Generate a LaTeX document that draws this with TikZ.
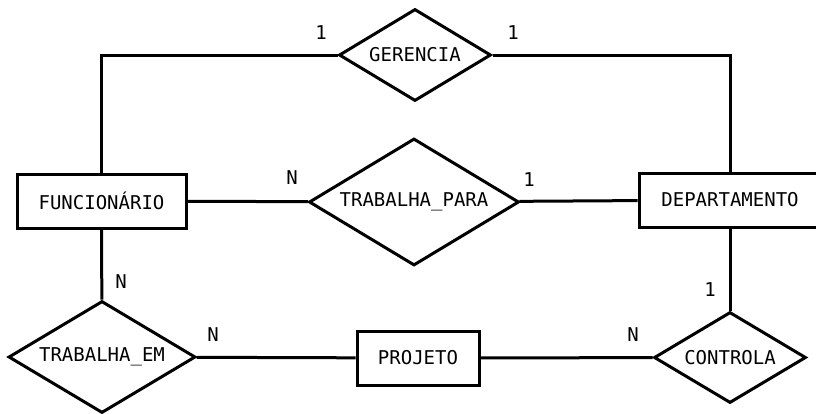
\documentclass[tikz,border=0pt]{standalone}
\usepackage{fontspec}
\setmonofont{DejaVu Sans Mono}
\usetikzlibrary{shapes.geometric}

\begin{document}
\begin{tikzpicture}[-,line width=3pt,x=1pt,y=-1pt,font=\ttfamily\fontsize{19}{22}\selectfont]
    \tikzstyle{entity}=[draw=black, rectangle, minimum height=54pt, inner sep=0pt, fill=none, text=black]
    \tikzstyle{rel}=[draw=black, diamond, aspect=1.65, inner sep=0pt, fill=none, text=black]
    \tikzstyle{card}=[text=black, inner sep=0pt]

    \useasboundingbox (0,0) rectangle (816,413);

    \node[entity, minimum width=169pt] (func) at (101.5,201) {FUNCIONÁRIO};
    \node[entity, minimum width=182pt] (dep)  at (730,200)   {DEPARTAMENTO};
    \node[entity, minimum width=122pt] (proj) at (418,358)   {PROJETO};

    \node[rel, minimum width=152pt, minimum height=92pt]  (ger)   at (415,55)    {GERENCIA};
    \node[rel, minimum width=210pt, minimum height=127pt] (tpara) at (414,202)   {TRABALHA\_PARA};
    \node[rel, minimum width=187pt, minimum height=112pt] (tem)   at (102,357)   {TRABALHA\_EM};
    \node[rel, minimum width=152pt, minimum height=91pt]  (ctrl)  at (730,357.5) {CONTROLA};

    \node[card] (c1) at (321,33)  {1};
    \node[card] (c2) at (513,33)  {1};
    \node[card] (c3) at (292,178) {N};
    \node[card] (c4) at (529,180) {1};
    \node[card] (c5) at (121,282) {N};
    \node[card] (c6) at (213,335) {N};
    \node[card] (c7) at (710,290) {1};
    \node[card] (c8) at (633,335) {N};

    \draw (func.north) |- (ger.west);
    \draw (ger.east) -| (dep.north);
    \path
     (func) edge (tpara)
     (tpara) edge (dep)
     (func) edge (tem)
     (tem) edge (proj)
     (proj) edge (ctrl)
     (dep) edge (ctrl)
     ;
\end{tikzpicture}
\end{document}
